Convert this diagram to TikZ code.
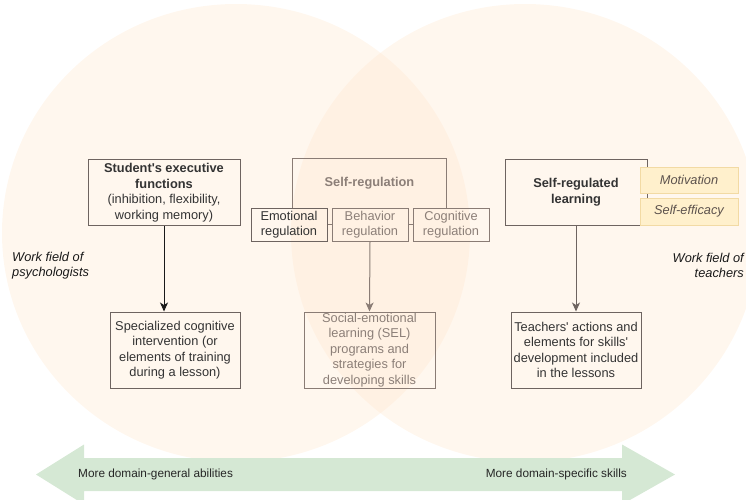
\documentclass[tikz,border=0pt]{standalone}
\usepackage{fontspec}
\setmainfont{Liberation Sans}
\usetikzlibrary{arrows.meta, positioning, calc}
\definecolor{peachFill}{HTML}{FFE6CC}
\definecolor{scaleGreen}{HTML}{D5E8D4}
\definecolor{boxLine}{HTML}{6E6460}
\definecolor{boxText}{HTML}{333333}
\definecolor{fadedLine}{HTML}{8A7C75}
\definecolor{fadedText}{HTML}{8C7F78}
\definecolor{noteFill}{HTML}{FFF0CC}
\definecolor{noteLine}{HTML}{F2DAA4}
\definecolor{noteText}{HTML}{5C524D}
\newcommand{\FieldCircle}[1]{
    % #1: centre of the work field
    \fill[peachFill, opacity=0.33] (#1) ellipse [x radius=234, y radius=229];
}

\begin{document}
\begin{tikzpicture}[x=1pt, y=-1pt,
    every node/.style={font=\fontsize{12.8}{15.5}\selectfont, text=boxText, align=center, inner sep=0pt},
    box/.style={draw=boxLine, line width=1pt},
    fadedbox/.style={draw=fadedLine, line width=1pt, text=fadedText},
    notebox/.style={draw=noteLine, fill=noteFill, line width=1pt, text=noteText, font=\fontsize{12.8}{15.5}\selectfont\itshape, minimum width=98, minimum height=26},
    regbox/.style={minimum width=76, minimum height=33},
    flow/.style={line width=1pt, -{Stealth[length=9pt, width=8pt, inset=2.5pt]}}]
        \clip (0,0) rectangle (746,499);

        % Work fields
        \FieldCircle{236,233}
        \FieldCircle{525,233}

        % Scale arrow
        \fill[scaleGreen] (36,474.5) -- (84,444.5) -- (84,458) -- (622,458) -- (622,444.5) -- (675,474.5)
            -- (622,504.5) -- (622,491) -- (84,491) -- (84,504.5) -- cycle;
        \node[anchor=west, text=black!85, font=\fontsize{11.8}{14}\selectfont] (general) at (78,474.5) {More domain-general abilities};
        \node[anchor=east, text=black!85, font=\fontsize{11.8}{14}\selectfont] (specific) at (627,474.5) {More domain-specific skills};

        % Field labels
        \node[anchor=west, align=left, text=black!90, font=\fontsize{12.8}{15.5}\selectfont\itshape] (psych) at (12,265.5) {Work field of\\psychologists};
        \node[anchor=east, align=right, text=black!90, font=\fontsize{12.8}{15.5}\selectfont\itshape] (teach) at (744,265.5) {Work field of\\teachers};

        % Left column
        \node[box, minimum width=152, minimum height=66] (exec) at (164,192.5)
            {\textbf{Student\textquotesingle s executive}\\\textbf{functions}\\(inhibition, flexibility,\\working memory)};
        \node[box, minimum width=130, minimum height=76] (cogint) at (175,350)
            {Specialized cognitive\\intervention (or\\elements of training\\during a lesson)};
        \draw[flow, draw=black!90] (exec.south) -- (exec.south |- cogint.north);

        % Middle column
        \node[minimum width=153, minimum height=49, text=fadedText] (selfreg) at (369.5,183.5) {\textbf{Self-regulation}};
        \node[box, regbox] (emo) at (289,224.5) {Emotional\\regulation};
        \node[fadedbox, regbox] (behav) at (370,224.5) {Behavior\\regulation};
        \node[fadedbox, regbox] (cogreg) at (451,224.5) {Cognitive\\regulation};
        \draw[fadedLine, line width=1pt] (selfreg.south west) |- (selfreg.north east) -- (selfreg.south east);
        \draw[fadedLine, line width=1pt] (emo) -- (behav);
        \draw[fadedLine, line width=1pt] (behav) -- (cogreg);
        \node[fadedbox, minimum width=131, minimum height=76] (sel) at (369.5,350)
            {Social-emotional\\learning (SEL)\\programs and\\strategies for\\developing skills};
        \draw[flow, draw=fadedLine] (behav.south) -- (sel.north);

        % Right column
        \node[box, minimum width=142, minimum height=66] (srl) at (576,192) {\textbf{Self-regulated}\\\textbf{learning}};
        \node[notebox] (motiv) at (689,180) {Motivation};
        \node[notebox, minimum height=27] (effic) at (689,211.5) {Self-efficacy};
        \node[box, minimum width=130, minimum height=76] (actions) at (576,350)
            {Teachers\textquotesingle\ actions and\\elements for skills\textquotesingle\\development included\\in the lessons};
        \draw[flow, draw=boxLine] (srl.south) -- (actions.north);
    \end{tikzpicture}
\end{document}
